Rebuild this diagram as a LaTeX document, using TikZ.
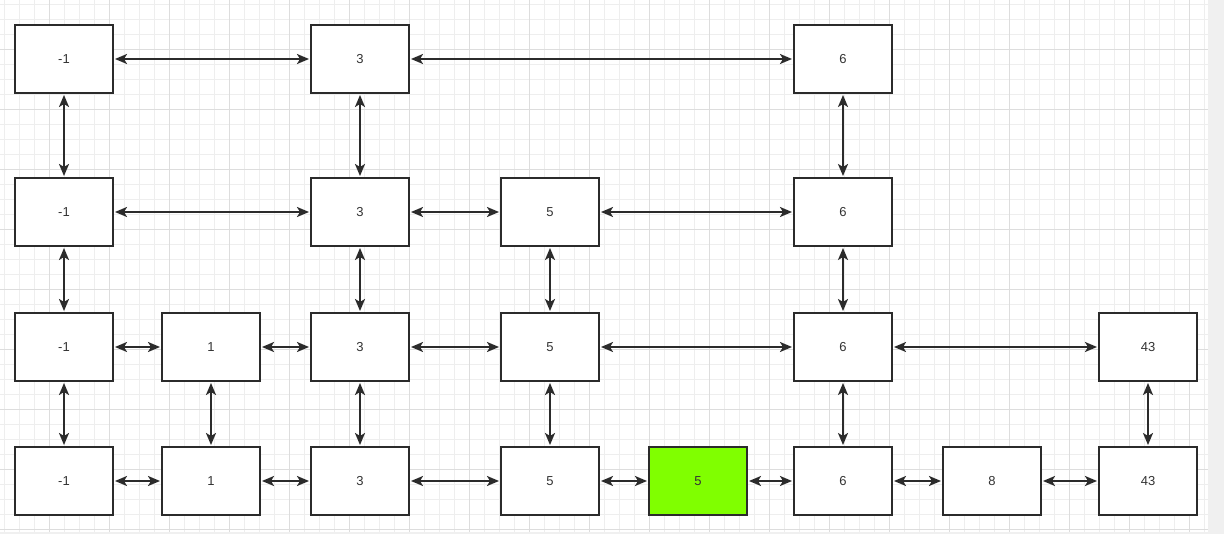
\documentclass[tikz,border=0pt]{standalone}
\usepackage{fontspec}
\setmainfont{Liberation Sans}
\usetikzlibrary{arrows.meta}
\definecolor{boxc}{HTML}{2B2B2B}
\definecolor{textc}{HTML}{333333}
\definecolor{gminor}{HTML}{EEEEEE}
\definecolor{gmajor}{HTML}{DDDDDD}
\definecolor{strip}{HTML}{F0F0F0}
\definecolor{lime}{HTML}{80FF00}
\tikzset{
  box/.style={draw=boxc, line width=2pt, fill=white, minimum width=98pt, minimum height=68pt,
    inner sep=0pt, outer sep=0pt, text=textc, font=\fontsize{13}{15}\selectfont},
  hl/.style={box, fill=lime},
  conn/.style={{Stealth[length=12pt,width=10pt,inset=3pt]}-{Stealth[length=12pt,width=10pt,inset=3pt]},
    line width=2pt, draw=boxc, shorten <=2pt, shorten >=2pt}
}
\begin{document}
\begin{tikzpicture}[x=1pt,y=-1pt]
\useasboundingbox (0,0) rectangle (1224,534);
\fill[strip] (0,0) rectangle (1224,534);
\fill[white] (0,0) rectangle (1208,532);
\foreach \x in {4.5,19.5,...,1208} \draw[gminor, line width=0.8pt] (\x,0) -- (\x,532);
\foreach \y in {4.5,19.5,...,532} \draw[gminor, line width=0.8pt] (0,\y) -- (1208,\y);
\foreach \x in {49.5,109.5,...,1208} \draw[gmajor, line width=0.8pt] (\x,0) -- (\x,532);
\foreach \y in {49.5,109.5,...,532} \draw[gmajor, line width=0.8pt] (0,\y) -- (1208,\y);

% row 1
\node[box] (a1) at (64,59) {-1};
\node[box] (a3) at (360,59) {3};
\node[box] (a6) at (843,59) {6};
% row 2
\node[box] (b1) at (64,212) {-1};
\node[box] (b3) at (360,212) {3};
\node[box] (b4) at (550,212) {5};
\node[box] (b6) at (843,212) {6};
% row 3
\node[box] (c1) at (64,347) {-1};
\node[box] (c2) at (211,347) {1};
\node[box] (c3) at (360,347) {3};
\node[box] (c4) at (550,347) {5};
\node[box] (c6) at (843,347) {6};
\node[box] (c8) at (1148,347) {43};
% row 4
\node[box] (d1) at (64,481) {-1};
\node[box] (d2) at (211,481) {1};
\node[box] (d3) at (360,481) {3};
\node[box] (d4) at (550,481) {5};
\node[hl]  (d5) at (698,481) {5};
\node[box] (d6) at (843,481) {6};
\node[box] (d7) at (992,481) {8};
\node[box] (d8) at (1148,481) {43};

% horizontal
\draw[conn] (a1) -- (a3);
\draw[conn] (a3) -- (a6);
\draw[conn] (b1) -- (b3);
\draw[conn] (b3) -- (b4);
\draw[conn] (b4) -- (b6);
\draw[conn] (c1) -- (c2);
\draw[conn] (c2) -- (c3);
\draw[conn] (c3) -- (c4);
\draw[conn] (c4) -- (c6);
\draw[conn] (c6) -- (c8);
\draw[conn] (d1) -- (d2);
\draw[conn] (d2) -- (d3);
\draw[conn] (d3) -- (d4);
\draw[conn] (d4) -- (d5);
\draw[conn] (d5) -- (d6);
\draw[conn] (d6) -- (d7);
\draw[conn] (d7) -- (d8);
% vertical
\draw[conn] (a1) -- (b1);
\draw[conn] (a3) -- (b3);
\draw[conn] (a6) -- (b6);
\draw[conn] (b1) -- (c1);
\draw[conn] (b3) -- (c3);
\draw[conn] (b4) -- (c4);
\draw[conn] (b6) -- (c6);
\draw[conn] (c1) -- (d1);
\draw[conn] (c2) -- (d2);
\draw[conn] (c3) -- (d3);
\draw[conn] (c4) -- (d4);
\draw[conn] (c6) -- (d6);
\draw[conn] (c8) -- (d8);
\end{tikzpicture}
\end{document}
